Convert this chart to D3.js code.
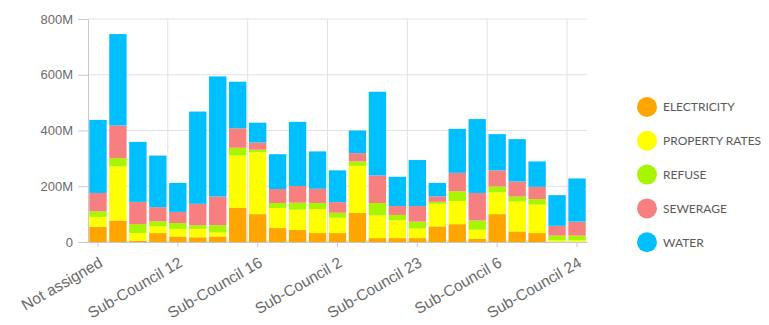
<!DOCTYPE html>
<html>
<head>
<meta charset="utf-8">
<script src="https://cdn.jsdelivr.net/npm/d3@7"></script>
<style>
  html, body { margin: 0; padding: 0; background: #fff; }
  svg { display: block; font-family: Lato, "Open Sans", sans-serif; }
</style>
</head>
<body>
<svg id="chart" width="769" height="325"></svg>
<script>
// Categories (in display order)
const categories = [
  "Not assigned", "Sub-Council 1", "Sub-Council 10", "Sub-Council 11", "Sub-Council 12",
  "Sub-Council 13", "Sub-Council 14", "Sub-Council 15", "Sub-Council 16", "Sub-Council 17",
  "Sub-Council 18", "Sub-Council 19", "Sub-Council 2", "Sub-Council 20", "Sub-Council 21",
  "Sub-Council 22", "Sub-Council 23", "Sub-Council 3", "Sub-Council 4", "Sub-Council 5",
  "Sub-Council 6", "Sub-Council 7", "Sub-Council 8", "Sub-Council 9", "Sub-Council 24"
];

// Series values, in millions
const electricity   = [55, 77, 5, 32, 20, 17, 20, 122, 100, 50, 43, 32, 32, 104, 14, 14, 14, 56, 64, 12, 100, 38, 32, 1, 1];
const propertyRates = [35, 194, 27, 24, 27, 30, 14, 188, 222, 72, 73, 86, 55, 169, 81, 64, 34, 81, 83, 32, 78, 107, 102, 5, 5];
const refuse        = [20, 30, 32, 18, 21, 13, 26, 28, 9, 18, 25, 22, 18, 16, 45, 19, 25, 7, 35, 33, 21, 18, 20, 17, 17];
const sewerage      = [66, 117, 80, 51, 40, 77, 103, 70, 26, 50, 60, 51, 38, 30, 99, 32, 56, 20, 66, 99, 58, 54, 44, 35, 50];
const water         = [262, 328, 215, 185, 104, 331, 431, 167, 71, 125, 230, 134, 114, 81, 300, 105, 165, 48, 158, 265, 130, 152, 91, 110, 155];

const seriesNames  = ["ELECTRICITY", "PROPERTY RATES", "REFUSE", "SEWERAGE", "WATER"];
const seriesColors = ["#FFA500", "#FFFF00", "#A8F500", "#F77F7F", "#00BFFF"];

// Y axis ticks
const yTicks = [0, 200, 400, 600, 800];
// Every fourth category is labelled
const labelEvery = 4;

const seriesValues = [electricity, propertyRates, refuse, sewerage, water];
const rows = categories.map((c, i) => {
  const r = { category: c };
  seriesNames.forEach((s, k) => { r[s] = seriesValues[k][i]; });
  return r;
});

const svg = d3.select("#chart");
const margin = { left: 88, right: 182, top: 19, bottom: 83 };
const W = 769, H = 325;

const x = d3.scaleBand()
  .domain(categories)
  .range([margin.left, W - margin.right])
  .paddingInner(0.13)
  .paddingOuter(0.065);

const y = d3.scaleLinear()
  .domain([0, 800])
  .range([H - margin.bottom, margin.top]);

const grid = svg.append("g");

// Horizontal grid lines
grid.selectAll("line.h")
  .data(yTicks)
  .join("line")
  .attr("x1", margin.left)
  .attr("x2", W - margin.right)
  .attr("y1", d => y(d))
  .attr("y2", d => y(d))
  .attr("stroke", "#e2e2e2")
  .attr("stroke-width", 1);

// Vertical grid lines at the start of each labelled category band
const step = x.step();
const labelled = categories.filter((c, i) => i % labelEvery === 0);
grid.selectAll("line.v")
  .data(labelled.slice(1))
  .join("line")
  .attr("x1", d => x(d) - step * x.paddingInner() / 2)
  .attr("x2", d => x(d) - step * x.paddingInner() / 2)
  .attr("y1", margin.top)
  .attr("y2", y(0))
  .attr("stroke", "#e2e2e2")
  .attr("stroke-width", 1);

// Stacked bars
const stack = d3.stack().keys(seriesNames);
const stacked = stack(rows);

svg.append("g")
  .selectAll("g")
  .data(stacked)
  .join("g")
  .attr("fill", (d, i) => seriesColors[i])
  .selectAll("rect")
  .data(d => d)
  .join("rect")
  .attr("x", d => x(d.data.category))
  .attr("width", x.bandwidth())
  .attr("y", d => y(d[1]))
  .attr("height", d => y(d[0]) - y(d[1]));

// Y axis
const yAxis = d3.axisLeft(y)
  .tickValues(yTicks)
  .tickSize(10)
  .tickPadding(5)
  .tickFormat(d => d === 0 ? "0" : d + "M");

const yg = svg.append("g")
  .attr("transform", `translate(${margin.left},0)`)
  .call(yAxis);
yg.select(".domain").attr("stroke", "#c8c8c8");
yg.selectAll(".tick line").attr("stroke", "#c8c8c8");
yg.selectAll(".tick text")
  .attr("fill", "#6b6b6b")
  .style("font-size", "13px");

// X axis
const xAxis = d3.axisBottom(x)
  .tickValues(labelled)
  .tickSize(5)
  .tickSizeOuter(0);

const xg = svg.append("g")
  .attr("transform", `translate(0,${y(0)})`)
  .call(xAxis);
xg.select(".domain").attr("stroke", "#c8c8c8");
xg.selectAll(".tick line").attr("stroke", "#c8c8c8");
xg.selectAll(".tick text")
  .attr("fill", "#6b6b6b")
  .style("font-size", "15.5px")
  .attr("text-anchor", "end")
  .attr("y", 0)
  .attr("dy", "0.35em")
  .attr("transform", "translate(3,19) rotate(-30)");

// Legend
const legend = svg.append("g");
const lg = legend.selectAll("g")
  .data(seriesNames)
  .join("g")
  .attr("transform", (d, i) => `translate(647,${107 + i * 33.8})`);
lg.append("circle")
  .attr("r", 10)
  .attr("fill", (d, i) => seriesColors[i]);
lg.append("text")
  .attr("x", 16)
  .attr("dy", "0.36em")
  .attr("fill", "#5a5a5a")
  .style("font-size", "12px")
  .text(d => d);
</script>
</body>
</html>
